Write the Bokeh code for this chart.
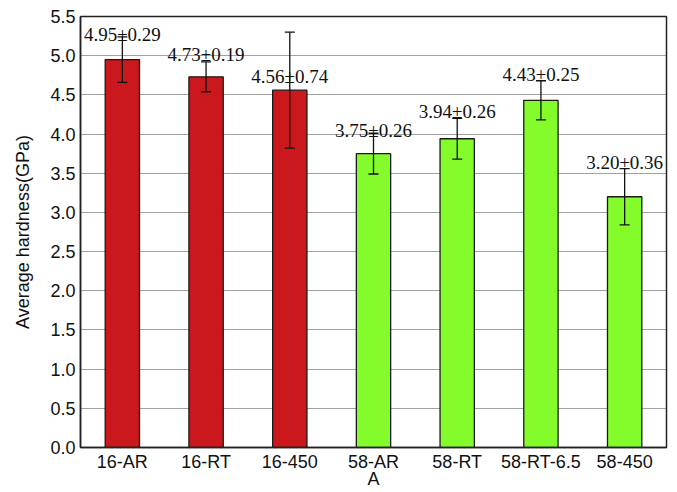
from bokeh.plotting import figure
from bokeh.models import (ColumnDataSource, Whisker, TeeHead, FixedTicker, NumeralTickFormatter,
                          Range1d, FactorRange)
from bokeh.core.properties import value
from bokeh.embed import file_html
from bokeh.resources import INLINE

categories = ["16-AR", "16-RT", "16-450", "58-AR", "58-RT", "58-RT-6.5", "58-450"]
hardness = [4.95, 4.73, 4.56, 3.75, 3.94, 4.43, 3.20]
errors = [0.29, 0.19, 0.74, 0.26, 0.26, 0.25, 0.36]
label_y = [5.27, 5.01, 4.73, 4.05, 4.29, 4.76, 3.64]
group = ["16", "16", "16", "58", "58", "58", "58"]
y_ticks = [0.0, 0.5, 1.0, 1.5, 2.0, 2.5, 3.0, 3.5, 4.0, 4.5, 5.0, 5.5]

colors = {"16": "#CA181C", "58": "#84FC2C"}

src = ColumnDataSource(dict(
    x=categories,
    top=hardness,
    upper=[h + e for h, e in zip(hardness, errors)],
    lower=[h - e for h, e in zip(hardness, errors)],
    ly=label_y,
    txt=["%.2f\u00b1%.2f" % (h, e) for h, e in zip(hardness, errors)],
    color=[colors[g] for g in group],
))

p = figure(width=677, height=492, x_range=FactorRange(*categories), y_range=Range1d(0, 5.5),
           output_backend="svg", toolbar_location=None,
           min_border_left=80, min_border_right=11, min_border_top=16, min_border_bottom=45)

p.vbar(x="x", top="top", width=0.41, source=src, fill_color="color",
       line_color="#1a1a1a", line_width=1.3)

w = Whisker(base="x", upper="upper", lower="lower", source=src, level="overlay",
            line_color="#111111", line_width=1.3,
            upper_head=TeeHead(size=10, line_color="#111111", line_width=1.3),
            lower_head=TeeHead(size=10, line_color="#111111", line_width=1.3))
p.add_layout(w)

p.text(x="x", y="ly", text="txt", source=src, text_align="center", text_baseline="alphabetic",
       text_font=value("Liberation Serif"), text_font_size="19px", text_color="#111111")

p.yaxis.ticker = FixedTicker(ticks=y_ticks)
p.yaxis.formatter = NumeralTickFormatter(format="0.0")
p.yaxis.axis_label = "Average hardness(GPa)"
p.xaxis.axis_label = "A"

for ax in (p.xaxis[0], p.yaxis[0]):
    ax.major_label_text_font = "Liberation Sans"
    ax.major_label_text_font_size = "18px"
    ax.major_label_text_color = "#111111"
    ax.axis_label_text_font = "Liberation Sans"
    ax.axis_label_text_font_size = "18px"
    ax.axis_label_text_font_style = "normal"
    ax.axis_label_text_color = "#111111"
    ax.major_tick_in = 0
    ax.major_tick_out = 0
    ax.minor_tick_in = 0
    ax.minor_tick_out = 0
    ax.axis_line_color = "#222222"
    ax.axis_line_width = 1.5

p.xaxis.major_label_standoff = 4
p.xaxis.axis_label_standoff = -6
p.yaxis.major_label_standoff = 5
p.yaxis.axis_label_standoff = 14

p.xgrid.grid_line_color = None
p.ygrid.grid_line_color = "#444444"
p.ygrid.grid_line_dash = "1 1"
p.ygrid.grid_line_width = 1

p.outline_line_color = "#222222"
p.outline_line_width = 1.5
p.background_fill_color = "white"
p.border_fill_color = "white"

open("out.html", "w").write(file_html(p, INLINE))
